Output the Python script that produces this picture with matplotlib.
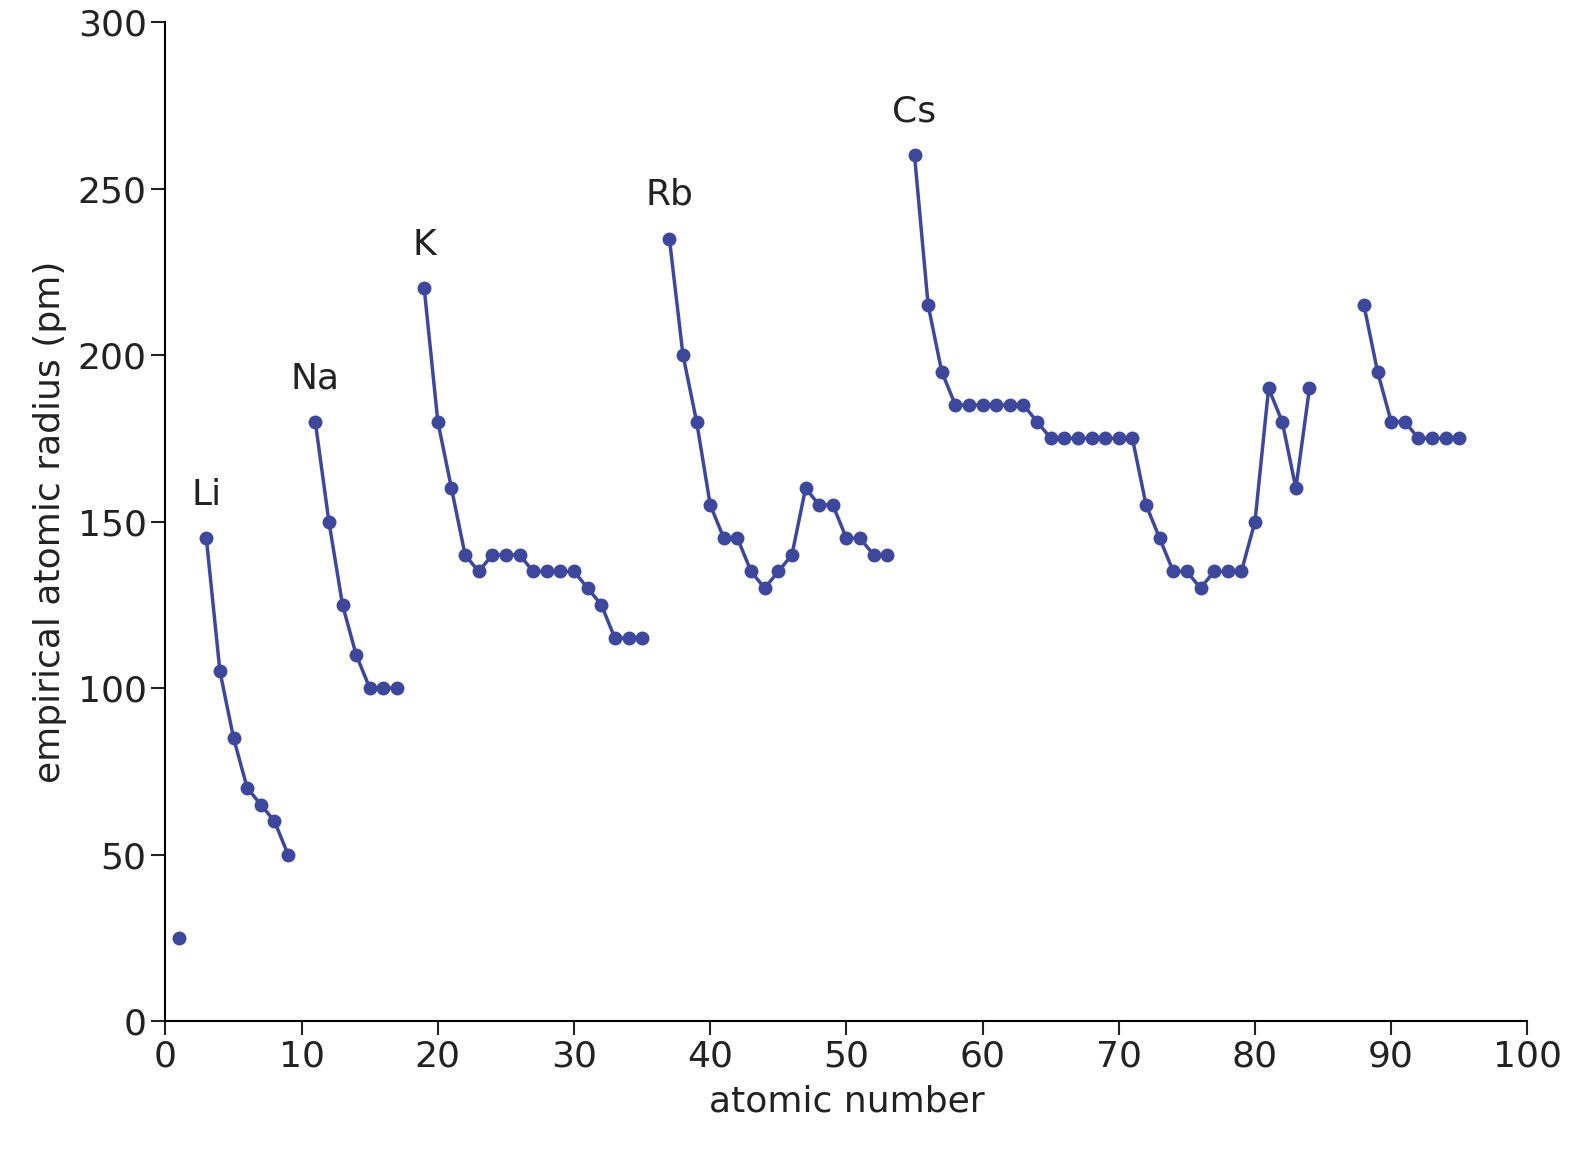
import matplotlib
matplotlib.use("Agg")
import matplotlib.pyplot as plt

segments = [
    ([1], [25]),
    ([3,4,5,6,7,8,9], [145,105,85,70,65,60,50]),
    ([11,12,13,14,15,16,17], [180,150,125,110,100,100,100]),
    (list(range(19,36)), [220,180,160,140,135,140,140,140,135,135,135,135,130,125,115,115,115]),
    (list(range(37,54)), [235,200,180,155,145,145,135,130,135,140,160,155,155,145,145,140,140]),
    (list(range(55,85)), [260,215,195,185,185,185,185,185,185,180,175,175,175,175,175,175,175,
                          155,145,135,135,130,135,135,135,150,190,180,160,190]),
    (list(range(88,96)), [215,195,180,180,175,175,175,175]),
]
labels = [("Li", 3, 145), ("Na", 11, 180), ("K", 19, 220), ("Rb", 37, 235), ("Cs", 55, 260)]
color = "#3d479b"

fig = plt.figure(figsize=(15.91, 11.69), dpi=100)
ax = fig.add_axes([0.104, 0.1266, 0.856, 0.8545])
for xs, ys in segments:
    ax.plot(xs, ys, color=color, lw=2.5, marker="o", ms=9, clip_on=False)
for t, x, y in labels:
    ax.text(x, y + 8, t, ha="center", va="bottom", fontsize=26, color="#222222")
ax.set_xlim(0, 100)
ax.set_ylim(0, 300)
ax.set_xticks(range(0, 101, 10))
ax.set_yticks(range(0, 301, 50))
ax.spines["top"].set_visible(False)
ax.spines["right"].set_visible(False)
for s in ("left", "bottom"):
    ax.spines[s].set_linewidth(1.5)
ax.tick_params(labelsize=26, width=1.5, length=10, colors="#222222")
ax.set_xlabel("atomic number", fontsize=26, color="#222222", labelpad=8)
ax.set_ylabel("empirical atomic radius (pm)", fontsize=26, color="#222222", labelpad=8)
fig.savefig("out.png", dpi=100)
